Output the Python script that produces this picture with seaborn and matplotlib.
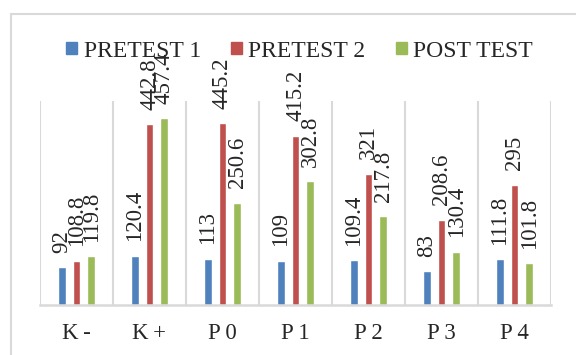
import pandas as pd
import matplotlib
matplotlib.use("Agg")
import matplotlib.pyplot as plt
import seaborn as sns
from matplotlib.patches import Rectangle

# Données
categories = ["K\u2009-", "K\u2009+", "P\u20090", "P\u20091", "P\u20092", "P\u20093", "P\u20094"]
series_names = ["PRETEST 1", "PRETEST 2", "POST TEST"]
pretest1 = [92, 120.4, 113, 109, 109.4, 83, 111.8]
pretest2 = [108.8, 442.8, 445.2, 415.2, 321, 208.6, 295]
posttest = [119.8, 457.4, 250.6, 302.8, 217.8, 130.4, 101.8]
colors = ["#4F81BD", "#C0504D", "#9BBB59"]

all_values = [pretest1, pretest2, posttest]
df = pd.DataFrame({
    "categorie": categories * 3,
    "serie": [s for s in series_names for _ in categories],
    "valeur": pretest1 + pretest2 + posttest,
})

sns.set_style("white")
plt.rcParams["font.family"] = ["Liberation Serif", "DejaVu Serif"]
fs = 17

fig = plt.figure(figsize=(5.76, 3.55), dpi=100)
ax = fig.add_axes([40 / 576, 1 - 305 / 355, 511 / 576, 204 / 355])

sns.barplot(data=df, x="categorie", y="valeur", hue="serie", order=categories,
            hue_order=series_names, palette=colors, width=0.61, gap=0.48,
            saturation=1, ax=ax, legend=True)

# Étiquettes de valeurs (verticales)
for cont, vals in zip(ax.containers, all_values):
    for bar, v in zip(cont, vals):
        ax.annotate(f"{v:g}", (bar.get_x() + bar.get_width() / 2, bar.get_height()),
                    xytext=(0, 10.5), textcoords="offset points", rotation=90,
                    ha="center", va="bottom", fontsize=fs - 0.5, annotation_clip=False)

ax.set_ylim(0, 500)
ax.set_xlim(-0.5, len(categories) - 0.5)
ax.set_yticks([])
ax.set_xlabel("")
ax.set_ylabel("")
ax.set_xticks([i - 0.5 for i in range(len(categories) + 1)], minor=True)
ax.grid(which="minor", axis="x", color="#d9d9d9", lw=1.5)
ax.tick_params(axis="x", which="both", length=0, pad=13, labelsize=fs - 0.5)
for s in ["top", "right", "left"]:
    ax.spines[s].set_visible(False)
ax.spines["bottom"].set_color("#d9d9d9")
ax.spines["bottom"].set_linewidth(1.8)

ax.legend_.remove()
handles = [Rectangle((0, 0), 1, 1, color=c) for c in colors]
fig.legend(handles, series_names, loc="center", bbox_to_anchor=(0.52, 0.856),
           ncol=3, frameon=False, fontsize=fs, handlelength=0.47, handleheight=0.42,
           handletextpad=0.27, columnspacing=1.27, borderpad=0, borderaxespad=0)

# Cadre extérieur
fig.patches.append(Rectangle((11 / 576, -0.1), 1.2, 1.1 - 14 / 355,
                             transform=fig.transFigure, fill=False,
                             edgecolor="#d9d9d9", lw=1.5, zorder=0))

fig.savefig("out.png", dpi=100)
